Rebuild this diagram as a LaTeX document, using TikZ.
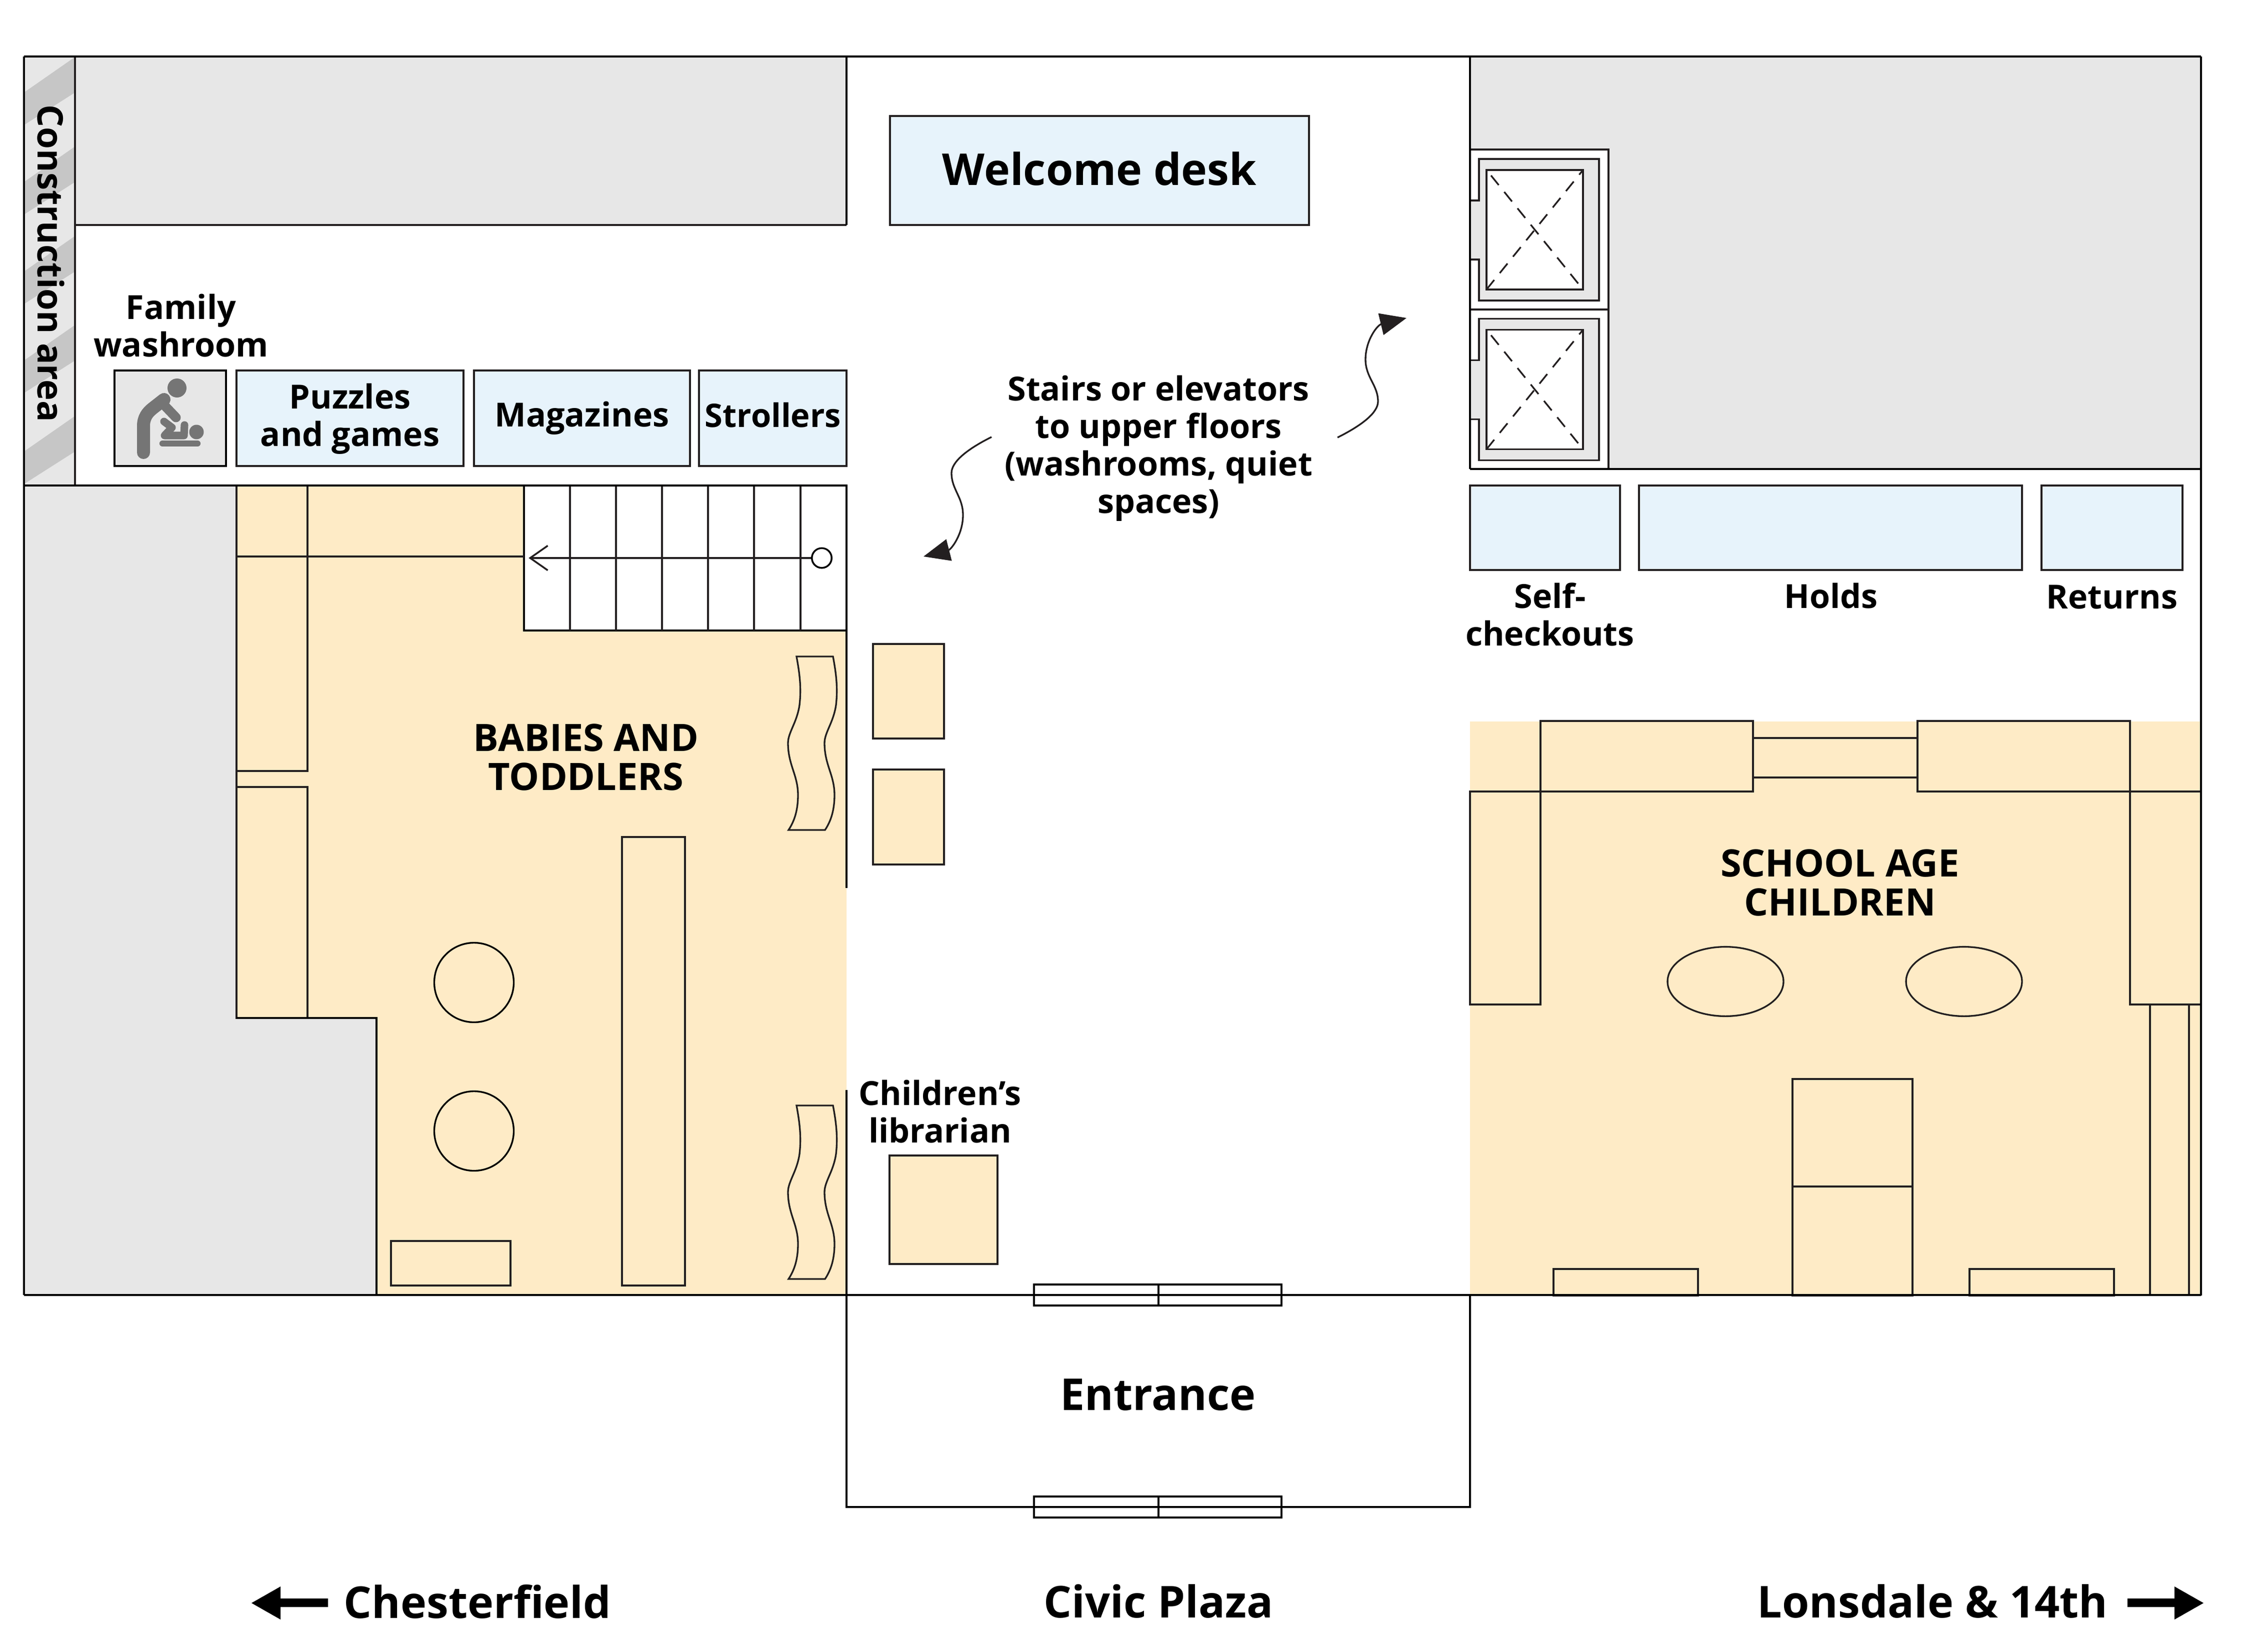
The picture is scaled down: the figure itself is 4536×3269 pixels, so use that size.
\documentclass[tikz,border=0pt]{standalone}
\usepackage{fontspec}
\setmainfont{Open Sans}
\usetikzlibrary{arrows.meta,shapes.geometric}
\definecolor{ink}{HTML}{231F20}
\definecolor{warm}{HTML}{FEEBC6}
\definecolor{cool}{HTML}{E7F3FB}
\definecolor{pale}{HTML}{E7E7E7}
\definecolor{stripe}{HTML}{C6C6C6}
\definecolor{figure}{HTML}{757575}
\tikzset{
  wall/.style={draw=black,line width=2.6pt},
  fine/.style={draw=ink,line width=1.9pt},
  furn/.style={fine,fill=warm},
  info/.style={fine,fill=cool},
  lab/.style={font=\bfseries\fontsize{37.8}{42.6}\selectfont,align=center,text=black,inner sep=0pt},
  zone/.style={font=\bfseries\fontsize{43}{44.4}\selectfont,align=center,text=black,inner sep=0pt},
  big/.style={font=\bfseries\fontsize{50}{60}\selectfont,align=center,text=black,inner sep=0pt},
  curly/.style={draw=ink,line width=1.9pt,-{Triangle[length=30pt,width=25pt,fill=ink]}},
}
\newcommand{\wavy}[1]{%
  \begin{scope}[yshift=#1*-0.02cm]
  \draw[furn] (1593,1313) -- (1666,1313) .. controls (1672,1345) and (1676,1375) .. (1672,1410)
    .. controls (1667,1445) and (1649,1465) .. (1649,1486)
    .. controls (1649,1530) and (1669,1550) .. (1669,1590)
    .. controls (1669,1620) and (1662,1642) .. (1650,1660)
    -- (1577,1660) .. controls (1589,1642) and (1596,1620) .. (1596,1590)
    .. controls (1596,1550) and (1576,1530) .. (1576,1486)
    .. controls (1576,1465) and (1594,1445) .. (1599,1410)
    .. controls (1603,1375) and (1599,1345) .. (1593,1313) -- cycle;
  \end{scope}}
\newcommand{\lift}[1]{%
  \begin{scope}[yshift=#1*-0.02cm]
  \fill[pale] (2940,401) -- (2958,401) -- (2958,318) -- (3198,318) -- (3198,601) -- (2958,601) -- (2958,519) -- (2940,519) -- cycle;
  \draw[fine] (2940,401) -- (2958,401) -- (2958,318) -- (3198,318) -- (3198,601) -- (2958,601) -- (2958,519) -- (2940,519);
  \draw[fine,fill=white] (2973,340) rectangle (3166,579);
  \draw[fine,dashed,dash pattern=on 14pt off 10pt] (2982,351) -- (3166,579);
  \draw[fine,dashed,dash pattern=on 14pt off 10pt] (2973,579) -- (3166,340);
  \end{scope}}
\begin{document}
\begin{tikzpicture}[x=0.02cm,y=-0.02cm]
\useasboundingbox (0,0) rectangle (4536,3269);
\fill[white] (0,0) rectangle (4536,3269);
% gray fills
\fill[pale] (150,113) rectangle (1693,450);
\fill[pale] (48,971) rectangle (473,2590);
\fill[pale] (473,2036) rectangle (753,2590);
\fill[pale] (2940,113) rectangle (4402,938);
% construction band
\fill[pale] (48,113) rectangle (150,971);
\begin{scope}
\clip (48,113) rectangle (150,971);
\foreach \d in {0,179,358,536,718}
  \fill[stripe] (48,185+\d) -- (150,114+\d) -- (150,185+\d) -- (48,250+\d) -- cycle;
\end{scope}
% warm zones
\fill[warm] (473,971) -- (1048,971) -- (1048,1261) -- (1693,1261) -- (1693,2590) -- (753,2590) -- (753,2036) -- (473,2036) -- cycle;
\fill[warm] (2940,1443) rectangle (4402,2591);
% stairs
\draw[wall,line width=2.2pt,fill=white] (1048,971) rectangle (1693,1261);
\foreach \sx in {1140,1232,1324,1416,1508,1601}
  \draw[fine,line width=2pt] (\sx,971) -- (\sx,1261);
\coordinate (stairfoot) at (1059,1116);
\node[circle,draw=black,line width=2pt,fill=white,minimum size=22.5pt,inner sep=0pt] (stairhead) at (1643.5,1116) {};
\draw[draw=ink,line width=2pt,-{Straight Barb[length=20pt,width=28pt,line width=2pt]},shorten >=-1pt] (stairhead) -- (stairfoot);
% left shelving
\draw[fine] (473,971) rectangle (615,1542);
\draw[fine] (473,1574) rectangle (615,2036);
\draw[fine] (473,1542) -- (473,1574);
\draw[fine] (473,1113) -- (1048,1113);
\draw[wall] (473,2036) -- (753,2036) -- (753,2590);
% babies furniture
\draw[furn] (1244,1674) rectangle (1370,2571);
\draw[furn] (782,2482) rectangle (1021,2571);
\node[circle,draw=black,line width=1.9pt,fill=warm,minimum size=90.5pt,inner sep=0pt] (roundA) at (948,1965) {};
\node[circle,draw=black,line width=1.9pt,fill=warm,minimum size=90.5pt,inner sep=0pt] (roundB) at (948,2262) {};
\wavy{0}
\wavy{898}
% desks in the lobby
\draw[furn] (1746,1288) rectangle (1888,1477);
\draw[furn] (1746,1539) rectangle (1888,1729);
\draw[furn] (1779,2311) rectangle (1995,2528);
% school age furniture
\draw[fine] (3506,1476) -- (3835,1476);
\draw[fine] (3506,1555) -- (3835,1555);
\draw[furn] (3081,1442) rectangle (3506,1583);
\draw[furn] (3835,1442) rectangle (4260,1583);
\draw[furn] (2940,1583) rectangle (3081,2009);
\draw[furn] (4260,1583) rectangle (4402,2009);
\draw[fine] (4300,2009) -- (4300,2591);
\draw[fine] (4378,2009) -- (4378,2591);
\draw[furn] (3585,2158) rectangle (3825,2373);
\draw[furn] (3585,2373) rectangle (3825,2591);
\draw[furn] (3107,2538) rectangle (3396,2591);
\draw[furn] (3939,2538) rectangle (4228,2591);
\node[ellipse,draw=ink,line width=1.9pt,fill=warm,minimum width=132pt,minimum height=79pt,inner sep=0pt] (ovalA) at (3451,1963) {};
\node[ellipse,draw=ink,line width=1.9pt,fill=warm,minimum width=132pt,minimum height=79pt,inner sep=0pt] (ovalB) at (3928,1963) {};
% elevators
\fill[white] (2940,299) rectangle (3217,938);
\lift{0}
\lift{319.5}
\draw[fine] (2940,299) -- (3217,299) -- (3217,938);
\draw[fine] (2940,619) -- (3217,619);
% structure
\draw[fine] (150,113) -- (150,971);
\draw[fine] (150,450) -- (1693,450);
\draw[wall] (48,971) -- (1693,971);
\draw[wall] (48,113) -- (4402,113);
\draw[wall] (48,113) -- (48,2590);
\draw[wall] (4402,113) -- (4402,2591);
\draw[wall] (48,2590) -- (4402,2590);
\draw[wall] (1693,113) -- (1693,450);
\draw[wall] (1693,971) -- (1693,1776);
\draw[wall] (1693,2180) -- (1693,3014) -- (2940,3014) -- (2940,2590);
\draw[wall] (2940,113) -- (2940,938);
\draw[wall,line width=2.1pt] (2940,938) -- (4402,938);
% doors
\foreach \dy in {2569,2993} {
  \draw[wall,line width=2.1pt] (2068,\dy) rectangle (2317,\dy+42);
  \draw[wall,line width=2.1pt] (2317,\dy) rectangle (2563,\dy+42);
}
% service boxes
\draw[info] (1780,232) rectangle (2618,450);
\draw[fine,fill=pale,draw=black] (229,741) rectangle (452,932);
\draw[info] (473,741) rectangle (927,932);
\draw[info] (948,741) rectangle (1380,932);
\draw[info] (1398,741) rectangle (1693,932);
\draw[info] (2940,971) rectangle (3240,1140);
\draw[info] (3278,971) rectangle (4044,1140);
\draw[info] (4083,971) rectangle (4365,1140);
% family icon
\fill[figure] (354,776) circle (19);
\fill[figure] (393,864) circle (14.5);
\draw[figure,line width=14.8pt,line cap=round,line join=round] (287,905) -- (287,852) .. controls (287,835) and (295,825) .. (305,817) -- (328,799);
\draw[figure,line width=10.8pt,line cap=round] (330,812) -- (352,835);
\draw[figure,line width=8.6pt,line cap=round,line join=round] (328,843) -- (344,855) -- (329,871) -- (368,871) -- (369,850);
\draw[figure,line width=7pt,line cap=round] (325,887) -- (395,887);
% curly arrows
\node[lab] (stairsnote) at (2317,897) {Stairs or elevators\\to upper floors\\(washrooms, quiet\\spaces)};
\coordinate (noteR) at (2675,875);
\coordinate (noteL) at (1983,874);
\coordinate (upR) at (2813,636);
\coordinate (downL) at (1847,1113);
\draw[curly] (noteR) .. controls (2725,850) and (2756,825) .. (2756,803)
  .. controls (2756,770) and (2731,755) .. (2731,719)
  .. controls (2731,680) and (2755,650) .. (upR);
\draw[curly] (noteL) .. controls (1933,899) and (1903,924) .. (1903,946)
  .. controls (1903,979) and (1926,994) .. (1926,1030)
  .. controls (1926,1069) and (1902,1099) .. (downL);
% street arrows
\fill[black] (503,3206) -- (561,3173) -- (561,3197) -- (656,3197) -- (656,3214) -- (561,3214) -- (561,3239) -- cycle;
\fill[black] (4407,3206) -- (4349,3173) -- (4349,3197) -- (4255,3197) -- (4255,3214) -- (4349,3214) -- (4349,3239) -- cycle;
% texts
\node[lab,font=\bfseries\fontsize{40.2}{44}\selectfont,rotate=-90] (constr) at (102,527) {Construction area};
\node[lab] (fam) at (362,651) {Family\\washroom};
\node[lab] (puz) at (700,838) {Puzzles\\and games};
\node[lab] (mag) at (1164,836) {Magazines};
\node[lab,font=\bfseries\fontsize{37}{42.6}\selectfont] (strol) at (1546,830) {Strollers};
\node[big] (desk) at (2199,338) {Welcome desk};
\node[lab] (self) at (3100,1229) {Self-\\checkouts};
\node[lab] (holds) at (3662,1192) {Holds};
\node[lab] (ret) at (4224,1194) {Returns};
\node[zone] (babies) at (1172,1514) {BABIES AND\\TODDLERS};
\node[zone] (school) at (3680,1765) {SCHOOL AGE\\CHILDREN};
\node[lab] (libr) at (1880,2223) {Children’s\\librarian};
\node[big] (ent) at (2316,2790) {Entrance};
\node[big] (civic) at (2317,3203) {Civic Plaza};
\node[big] (chest) at (955,3203) {Chesterfield};
\node[big] (lons) at (3865,3203) {Lonsdale \& 14th};
\end{tikzpicture}
\end{document}
